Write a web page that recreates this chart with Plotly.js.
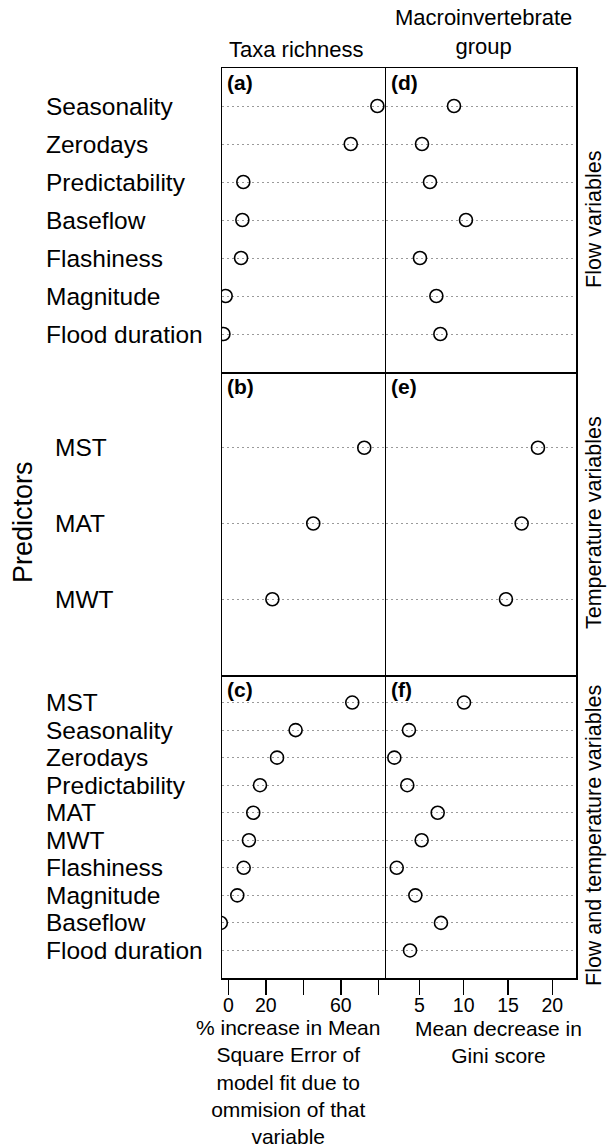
<!DOCTYPE html>
<html>
<head>
<meta charset="utf-8">
<script src="https://cdn.plot.ly/plotly-3.0.1.min.js"></script>
<style>html,body{margin:0;padding:0;background:#fff;}#chart{width:609px;height:1145px;}</style>
</head>
<body>
<div id="chart"></div>
<script>
// ---- Data ----
const flowVars = ['Seasonality','Zerodays','Predictability','Baseflow','Flashiness','Magnitude','Flood duration'];
const flowTaxa = [79.5, 65.3, 8.0, 7.5, 6.8, -1.4, -2.6];
const flowGroup = [8.91, 5.30, 6.20, 10.26, 5.07, 6.92, 7.37];

const tempVars = ['MST','MAT','MWT'];
const tempTaxa = [72.5, 45.3, 23.5];
const tempGroup = [18.38, 16.54, 14.77];

const bothVars = ['MST','Seasonality','Zerodays','Predictability','MAT','MWT','Flashiness','Magnitude','Baseflow','Flood duration'];
const bothTaxa = [66.1, 35.9, 26.0, 16.9, 13.3, 11.0, 8.2, 4.8, -4.0, -12];
const bothGroup = [10.04, 3.83, 2.18, 3.64, 7.07, 5.26, 2.45, 4.55, 7.44, 3.95];

const leftTickVals = [0, 20, 40, 60, 80];
const leftTickText = ['0', '20', '', '60', ''];
const rightTickVals = [5, 10, 15, 20];
const rightTickText = ['5', '10', '15', '20'];

const colTitles = ['Taxa richness', 'Macroinvertebrate<br>group'];
const rowTitles = ['Flow variables', 'Temperature variables', 'Flow and temperature variables'];
const panelLetters = ['(a)', '(d)', '(b)', '(e)', '(c)', '(f)'];
const yTitle = 'Predictors';
const leftXTitle = '% increase in Mean<br>Square Error of<br>model fit due to<br>ommision of that<br>variable';
const rightXTitle = 'Mean decrease in<br>Gini score';

// ---- Layout geometry ----
const W = 609, H = 1145;
const FONT = 'Liberation Sans, Arial, Helvetica, sans-serif';
const px = v => v / W;
const py = v => 1 - v / H;
const colX = [[222, 386], [386, 576]];
const rowY = [[68, 372], [372, 675], [675, 978]];
const leftRange = [-3.36, 84.1];
const rightRange = [1.24, 22.67];
const labelX = [44, 53, 44];
const rowTitleY = [220, 523, 836];

const groups = [
  {vars: flowVars, left: flowTaxa, right: flowGroup},
  {vars: tempVars, left: tempTaxa, right: tempGroup},
  {vars: bothVars, left: bothTaxa, right: bothGroup}
];

const data = [];
const layout = {
  width: W, height: H,
  margin: {l: 0, r: 0, t: 0, b: 0},
  paper_bgcolor: '#fff', plot_bgcolor: '#fff',
  showlegend: false,
  font: {family: FONT, color: '#000'},
  annotations: []
};

const marker = {symbol: 'circle-open', size: 13, color: '#000', line: {color: '#000', width: 1.6}};

groups.forEach((g, r) => {
  const n = g.vars.length;
  const ys = g.vars.map((v, i) => n - 1 - i);
  [0, 1].forEach(c => {
    const k = r * 2 + c + 1;
    const xa = 'x' + (k === 1 ? '' : k), ya = 'y' + (k === 1 ? '' : k);
    data.push({
      type: 'scatter', mode: 'markers',
      x: c === 0 ? g.left : g.right, y: ys,
      xaxis: xa, yaxis: ya, marker: marker, cliponaxis: true,
      hoverinfo: 'skip'
    });
    const isBottom = r === 2;
    layout['xaxis' + (k === 1 ? '' : k)] = {
      domain: [px(colX[c][0]), px(colX[c][1])],
      anchor: ya,
      range: c === 0 ? leftRange : rightRange,
      showgrid: false, zeroline: false,
      showline: true, mirror: r === 0, linecolor: '#000', linewidth: 1.5,
      ticks: isBottom ? 'outside' : '',
      ticklen: 15, tickwidth: 1.5, tickcolor: '#000',
      ticklabelstandoff: -6,
      tickvals: c === 0 ? leftTickVals : rightTickVals,
      ticktext: c === 0 ? leftTickText : rightTickText,
      showticklabels: isBottom,
      tickfont: {family: FONT, size: 19.5, color: '#000'}
    };
    layout['yaxis' + (k === 1 ? '' : k)] = {
      domain: [py(rowY[r][1]), py(rowY[r][0])],
      anchor: xa,
      range: [-1, n],
      tickvals: ys,
      showticklabels: false, ticks: '',
      showgrid: true, gridcolor: '#9a9a9a', griddash: '2px,3px', gridwidth: 1,
      zeroline: false,
      showline: true, mirror: c === 1, linecolor: '#000', linewidth: 1.5
    };
    // panel letter
    layout.annotations.push({
      xref: 'paper', yref: 'paper', x: px(colX[c][0] + 3), y: py(rowY[r][0] + 1),
      xanchor: 'left', yanchor: 'top', showarrow: false,
      text: '<b>' + panelLetters[k - 1] + '</b>',
      font: {family: FONT, size: 21, color: '#000'}
    });
  });
  // row labels (left)
  g.vars.forEach((v, i) => {
    layout.annotations.push({
      xref: 'paper', yref: 'y' + (r * 2 + 1 === 1 ? '' : r * 2 + 1),
      x: px(labelX[r]), y: ys[i], xanchor: 'left', yanchor: 'middle',
      showarrow: false, text: v,
      font: {family: FONT, size: 24.5, color: '#000'}
    });
  });
  // right side group title
  layout.annotations.push({
    xref: 'paper', yref: 'paper', x: px(594), y: py(rowTitleY[r]),
    xanchor: 'center', yanchor: 'middle', textangle: -90, showarrow: false,
    text: rowTitles[r], font: {family: FONT, size: 21.5, color: '#000'}
  });
});

// column titles
layout.annotations.push({
  xref: 'paper', yref: 'paper', x: px(296), y: py(49), xanchor: 'center', yanchor: 'middle',
  showarrow: false, text: colTitles[0], font: {family: FONT, size: 22, color: '#000'}
});
layout.annotations.push({
  xref: 'paper', yref: 'paper', x: px(483), y: py(32), xanchor: 'center', yanchor: 'middle',
  showarrow: false, text: colTitles[1], font: {family: FONT, size: 22, color: '#000'}
});
// y title
layout.annotations.push({
  xref: 'paper', yref: 'paper', x: px(23), y: py(522), xanchor: 'center', yanchor: 'middle',
  textangle: -90, showarrow: false, text: yTitle, font: {family: FONT, size: 27, color: '#000'}
});
// x titles
layout.annotations.push({
  xref: 'paper', yref: 'paper', x: px(288), y: py(1082), xanchor: 'center', yanchor: 'middle',
  showarrow: false, text: leftXTitle, font: {family: FONT, size: 21, color: '#000'}
});
layout.annotations.push({
  xref: 'paper', yref: 'paper', x: px(498), y: py(1042), xanchor: 'center', yanchor: 'middle',
  showarrow: false, text: rightXTitle, font: {family: FONT, size: 21, color: '#000'}
});

Plotly.newPlot('chart', data, layout, {staticPlot: true, displayModeBar: false});
</script>
</body>
</html>
